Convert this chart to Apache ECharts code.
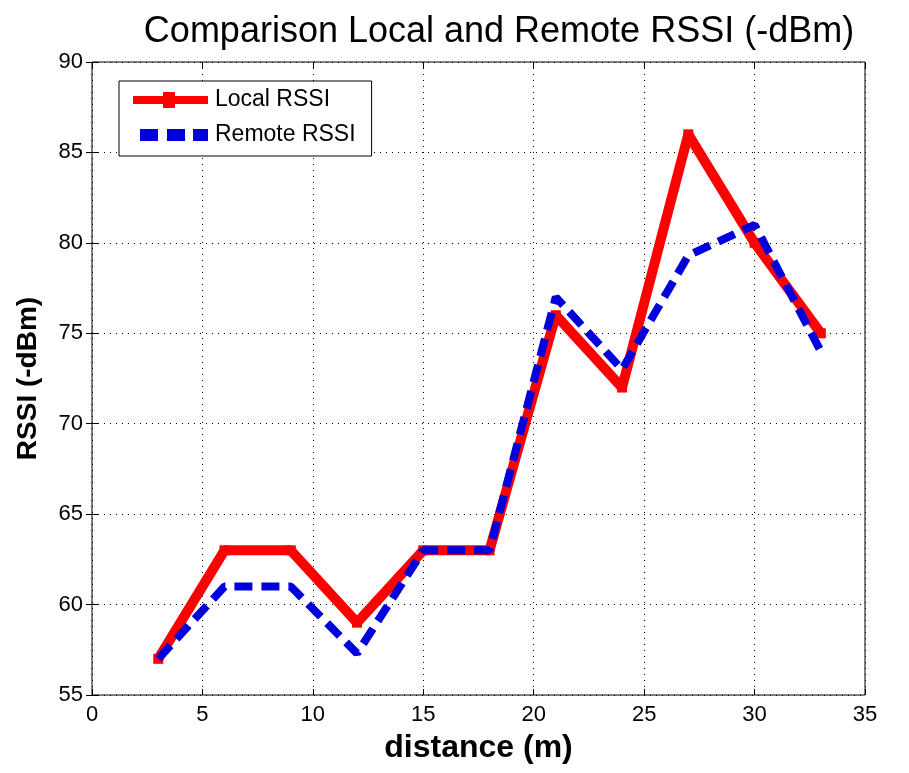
<!DOCTYPE html>
<html>
<head>
<meta charset="utf-8">
<script src="https://cdn.jsdelivr.net/npm/echarts@6/dist/echarts.min.js"></script>
<style>
  html, body { margin: 0; padding: 0; background: #fff; }
  #chart { width: 909px; height: 773px; }
</style>
</head>
<body>
<div id="chart"></div>
<script>
// distance (m)
var distance = [3, 6, 9, 12, 15, 18, 21, 24, 27, 30, 33];
// RSSI values (-dBm)
var localRssi = [57, 63, 63, 59, 63, 63, 76, 72, 86, 80, 75];
var remoteRssi = [57, 61, 61, 57.3, 63, 63, 77, 73, 79.3, 81, 74];

var pairs = function (xs, ys) {
  return xs.map(function (x, i) { return [x, ys[i]]; });
};

var font = 'Liberation Sans, Arial, sans-serif';
var red = '#ff0000';
var blue = '#0000dd';

// legend icons drawn in a 75x16 box (tiny corner dots keep the box size)
var corners = 'M0,0h0.01v0.01h-0.01z M74.99,15.99h0.01v0.01h-0.01z ';
var localIcon = 'path://' + corners + 'M0,4h75v8h-75z M30,0h12v16h-12z';
var remoteIcon = 'path://' + corners + 'M7,2h18v12h-18z M34,2h18v12h-18z M60,2h15v12h-15z';

var chart = echarts.init(document.getElementById('chart'));

var tickStyle = { show: true, inside: true, length: 6, lineStyle: { color: '#000' } };
var gridLine = { show: true, lineStyle: { color: '#000', type: [1, 5], width: 1 } };

chart.setOption({
  backgroundColor: '#fff',
  animation: false,
  title: {
    text: 'Comparison Local and Remote RSSI (-dBm)',
    left: 494, top: 9, textAlign: 'center',
    textStyle: { fontFamily: font, fontSize: 36, fontWeight: 'normal', color: '#000' }
  },
  grid: {
    left: 92, right: 44, top: 62, bottom: 78,
    show: true, borderColor: '#000', borderWidth: 1
  },
  legend: {
    left: 119, top: 81, orient: 'vertical',
    padding: [7, 16, 9, 14],
    itemGap: 11,
    itemWidth: 75, itemHeight: 16,
    backgroundColor: '#fff', borderColor: '#000', borderWidth: 1,
    textStyle: { fontFamily: font, fontSize: 23, lineHeight: 24, color: '#000', padding: [0, 0, 0, 2] },
    data: [
      { name: 'Local RSSI', icon: localIcon, itemStyle: { color: red } },
      { name: 'Remote RSSI', icon: remoteIcon, itemStyle: { color: blue } }
    ]
  },
  xAxis: [{
    type: 'value', min: 0, max: 35, interval: 5,
    name: 'distance (m)', nameLocation: 'middle', nameGap: 37,
    nameTextStyle: { fontFamily: font, fontSize: 32, fontWeight: 'bold', color: '#000' },
    axisLine: { show: false },
    axisTick: tickStyle,
    axisLabel: { fontFamily: font, fontSize: 22, color: '#000', margin: 9 },
    splitLine: gridLine
  }, {
    type: 'value', position: 'top', min: 0, max: 35, interval: 5,
    axisLine: { show: false }, axisTick: tickStyle,
    axisLabel: { show: false }, splitLine: { show: false }
  }],
  yAxis: [{
    type: 'value', min: 55, max: 90, interval: 5,
    name: 'RSSI (-dBm)', nameLocation: 'middle', nameGap: 50,
    nameTextStyle: { fontFamily: font, fontSize: 28, fontWeight: 'bold', color: '#000' },
    axisLine: { show: false },
    axisTick: tickStyle,
    axisLabel: { fontFamily: font, fontSize: 22, color: '#000', margin: 9 },
    splitLine: gridLine
  }, {
    type: 'value', position: 'right', min: 55, max: 90, interval: 5,
    axisLine: { show: false }, axisTick: tickStyle,
    axisLabel: { show: false }, splitLine: { show: false }
  }],
  series: [{
    name: 'Local RSSI',
    type: 'line',
    data: pairs(distance, localRssi),
    symbol: 'rect', symbolSize: 10,
    itemStyle: { color: red },
    lineStyle: { color: red, width: 10 },
    z: 2
  }, {
    name: 'Remote RSSI',
    type: 'line',
    data: pairs(distance, remoteRssi),
    symbol: 'none',
    itemStyle: { color: blue },
    lineStyle: { color: blue, width: 8, type: [18, 9] },
    z: 3
  }]
});
</script>
</body>
</html>
